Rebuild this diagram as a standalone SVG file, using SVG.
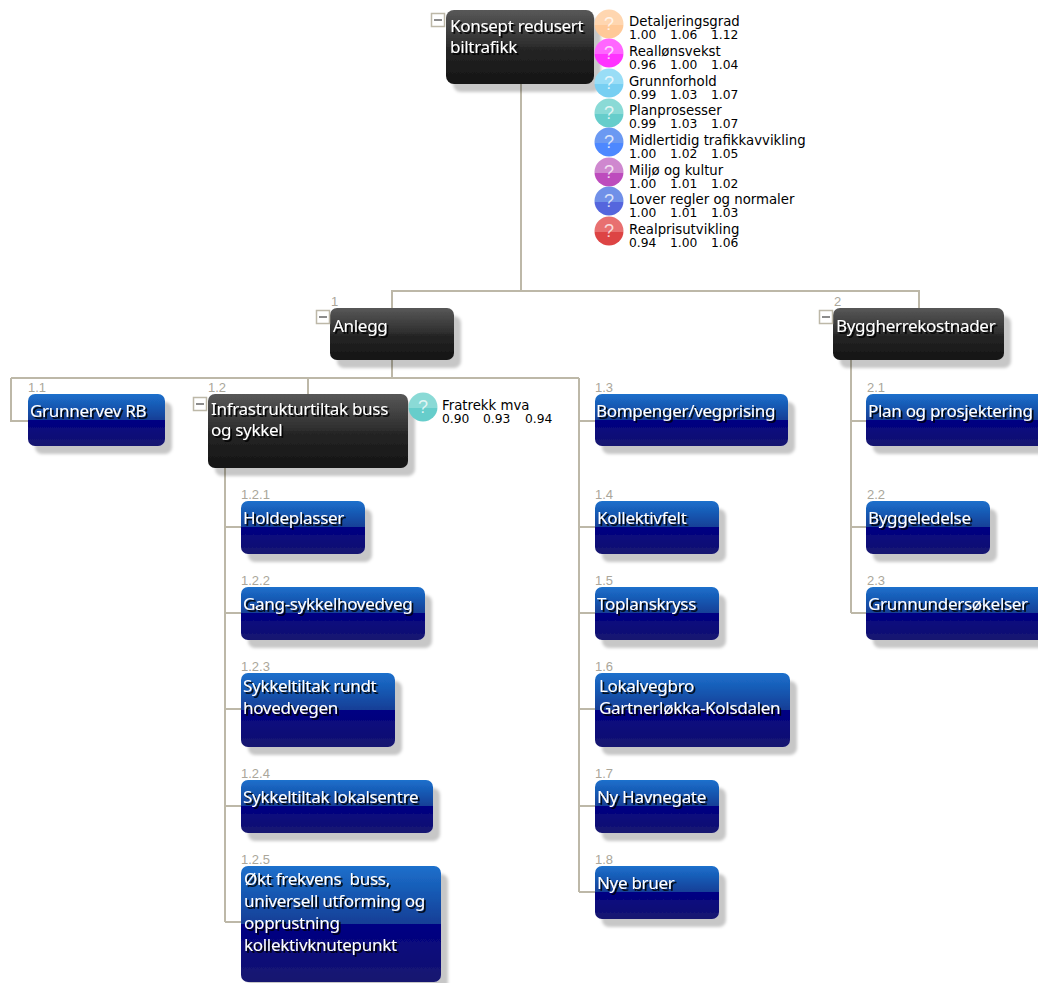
<svg xmlns="http://www.w3.org/2000/svg" width="1038" height="983" viewBox="0 0 1038 983">
<style>
.w{fill:#fff;font:17px "Noto Sans","Liberation Sans",sans-serif;letter-spacing:-.3px;white-space:pre;filter:url(#ts)}
.n{fill:#aaa69a;font:13px "Liberation Sans",sans-serif}
.s{fill:#000;font:13.300px "DejaVu Sans",sans-serif}
.v{fill:#000;font:12.300px "DejaVu Sans",sans-serif}
.b{fill:url(#blue);filter:url(#sh)}
.k{fill:url(#black);filter:url(#sh)}
.c{fill:none;stroke:#bdb8a8;stroke-width:2}
.m{fill:#fff;stroke:#bdb8a8;stroke-width:1.500}
.mm{stroke:#666;stroke-width:1.500}
.q{fill:#fff;fill-opacity:.75;font:18px "Liberation Sans",sans-serif;text-anchor:middle}
</style>
<defs>
<linearGradient id="blue" x1="0" y1="0" x2="0" y2="1"><stop offset="0" stop-color="#1c70cc"/><stop offset=".5" stop-color="#123e96"/><stop offset=".5" stop-color="#000083"/><stop offset="1" stop-color="#171770"/></linearGradient>
<linearGradient id="black" x1="0" y1="0" x2="0" y2="1"><stop offset="0" stop-color="#585858"/><stop offset=".5" stop-color="#2c2c2c"/><stop offset=".5" stop-color="#262626"/><stop offset="1" stop-color="#141414"/></linearGradient>
<filter id="sh" x="-10%" y="-10%" width="125%" height="135%"><feDropShadow dx="7" dy="8" stdDeviation="1.500" flood-color="#000" flood-opacity=".22"/></filter>
<filter id="ts" x="-5%" y="-20%" width="115%" height="150%"><feDropShadow dx="1.800" dy="1.800" stdDeviation=".5" flood-color="#000" flood-opacity="1"/></filter>
<linearGradient id="g1" x1="0" y1="0" x2="0" y2="1"><stop offset=".55" stop-color="#ffd6b0"/><stop offset=".55" stop-color="#ffc998"/></linearGradient>
<linearGradient id="g2" x1="0" y1="0" x2="0" y2="1"><stop offset=".55" stop-color="#ff66ff"/><stop offset=".55" stop-color="#ff33ff"/></linearGradient>
<linearGradient id="g3" x1="0" y1="0" x2="0" y2="1"><stop offset=".55" stop-color="#99ddf6"/><stop offset=".55" stop-color="#77cff2"/></linearGradient>
<linearGradient id="g4" x1="0" y1="0" x2="0" y2="1"><stop offset=".55" stop-color="#8adad6"/><stop offset=".55" stop-color="#66cdcb"/></linearGradient>
<linearGradient id="g5" x1="0" y1="0" x2="0" y2="1"><stop offset=".55" stop-color="#6b99f2"/><stop offset=".55" stop-color="#4d88ff"/></linearGradient>
<linearGradient id="g6" x1="0" y1="0" x2="0" y2="1"><stop offset=".55" stop-color="#cf88cf"/><stop offset=".55" stop-color="#bd4cbd"/></linearGradient>
<linearGradient id="g7" x1="0" y1="0" x2="0" y2="1"><stop offset=".55" stop-color="#7090e8"/><stop offset=".55" stop-color="#5566dd"/></linearGradient>
<linearGradient id="g8" x1="0" y1="0" x2="0" y2="1"><stop offset=".55" stop-color="#e87070"/><stop offset=".55" stop-color="#dd4444"/></linearGradient>
</defs>
<g id="connectors">
<path class="c" d="M521 84V291M392 308V291H919V308"/>
<path class="c" d="M392 360V378M11 378H579M11 378V421H28M308 378V394"/>
<path class="c" d="M579 378V892M579 421H595M579 527H595M579 613H595M579 709H595M579 806H595M579 892H595"/>
<path class="c" d="M225 468V922M225 527H241M225 613H241M225 709H241M225 806H241M225 922H241"/>
<path class="c" d="M851 360V613M851 421H866M851 527H866M851 613H866"/>
</g>
<g id="root"><rect class="k" x="446" y="10" width="148" height="74" rx="8"/><rect class="m" x="431.500" y="13.500" width="13" height="13"/><path class="mm" d="M434 20H442"/><text class="w" x="450" y="32">Konsept redusert</text><text class="w" x="450" y="53">biltrafikk</text></g>
<g id="risk-1"><circle cx="609" cy="24" r="14.500" fill="url(#g1)"/><text class="q" x="609" y="30">?</text><text class="s" x="629" y="26">Detaljeringsgrad</text><text class="v" x="629" y="39">1.00</text><text class="v" x="670" y="39">1.06</text><text class="v" x="711" y="39">1.12</text></g>
<g id="risk-2"><circle cx="609" cy="53" r="14.500" fill="url(#g2)"/><text class="q" x="609" y="59">?</text><text class="s" x="629" y="56">Reallønsvekst</text><text class="v" x="629" y="69">0.96</text><text class="v" x="670" y="69">1.00</text><text class="v" x="711" y="69">1.04</text></g>
<g id="risk-3"><circle cx="609" cy="83" r="14.500" fill="url(#g3)"/><text class="q" x="609" y="89">?</text><text class="s" x="629" y="86">Grunnforhold</text><text class="v" x="629" y="99">0.99</text><text class="v" x="670" y="99">1.03</text><text class="v" x="711" y="99">1.07</text></g>
<g id="risk-4"><circle cx="609" cy="113" r="14.500" fill="url(#g4)"/><text class="q" x="609" y="119">?</text><text class="s" x="629" y="115">Planprosesser</text><text class="v" x="629" y="128">0.99</text><text class="v" x="670" y="128">1.03</text><text class="v" x="711" y="128">1.07</text></g>
<g id="risk-5"><circle cx="609" cy="142" r="14.500" fill="url(#g5)"/><text class="q" x="609" y="148">?</text><text class="s" x="629" y="145">Midlertidig trafikkavvikling</text><text class="v" x="629" y="158">1.00</text><text class="v" x="670" y="158">1.02</text><text class="v" x="711" y="158">1.05</text></g>
<g id="risk-6"><circle cx="609" cy="172" r="14.500" fill="url(#g6)"/><text class="q" x="609" y="178">?</text><text class="s" x="629" y="175">Miljø og kultur</text><text class="v" x="629" y="188">1.00</text><text class="v" x="670" y="188">1.01</text><text class="v" x="711" y="188">1.02</text></g>
<g id="risk-7"><circle cx="609" cy="201" r="14.500" fill="url(#g7)"/><text class="q" x="609" y="207">?</text><text class="s" x="629" y="204">Lover regler og normaler</text><text class="v" x="629" y="217">1.00</text><text class="v" x="670" y="217">1.01</text><text class="v" x="711" y="217">1.03</text></g>
<g id="risk-8"><circle cx="609" cy="231" r="14.500" fill="url(#g8)"/><text class="q" x="609" y="237">?</text><text class="s" x="629" y="234">Realprisutvikling</text><text class="v" x="629" y="247">0.94</text><text class="v" x="670" y="247">1.00</text><text class="v" x="711" y="247">1.06</text></g>
<g id="n1"><rect class="k" x="330" y="308" width="124" height="52" rx="7"/><rect class="m" x="316.500" y="310.500" width="13" height="13"/><path class="mm" d="M319 317H327"/><text class="n" x="331" y="306">1</text><text class="w" x="333" y="332">Anlegg</text></g>
<g id="n2"><rect class="k" x="833" y="308" width="171" height="52" rx="7"/><rect class="m" x="819.500" y="310.500" width="13" height="13"/><path class="mm" d="M822 317H830"/><text class="n" x="834" y="306">2</text><text class="w" x="836" y="332">Byggherrekostnader</text></g>
<g id="n1-1"><rect class="b" x="28" y="394" width="137" height="52" rx="7"/><text class="n" x="28" y="392">1.1</text><text class="w" x="30" y="417">Grunnervev RB</text></g>
<g id="n1-2"><rect class="k" x="208" y="394" width="200" height="74" rx="7"/><rect class="m" x="193.500" y="397.500" width="13" height="13"/><path class="mm" d="M196 404H204"/><text class="n" x="208" y="392">1.2</text><text class="w" x="211" y="415">Infrastrukturtiltak buss</text><text class="w" x="211" y="436">og sykkel</text></g>
<g id="risk-9"><circle cx="423" cy="407" r="14.500" fill="url(#g4)"/><text class="q" x="423" y="413">?</text><text class="s" x="442" y="410">Fratrekk mva</text><text class="v" x="442" y="423">0.90</text><text class="v" x="483" y="423">0.93</text><text class="v" x="525" y="423">0.94</text></g>
<g id="n1-2-1"><rect class="b" x="241" y="501" width="124" height="53" rx="7"/><text class="n" x="241" y="499">1.2.1</text><text class="w" x="243" y="524">Holdeplasser</text></g>
<g id="n1-2-2"><rect class="b" x="241" y="587" width="184" height="53" rx="7"/><text class="n" x="241" y="585">1.2.2</text><text class="w" x="243" y="610">Gang-sykkelhovedveg</text></g>
<g id="n1-2-3"><rect class="b" x="241" y="673" width="154" height="74" rx="7"/><text class="n" x="241" y="671">1.2.3</text><text class="w" x="243" y="692">Sykkeltiltak rundt</text><text class="w" x="243" y="714">hovedvegen</text></g>
<g id="n1-2-4"><rect class="b" x="241" y="780" width="192" height="53" rx="7"/><text class="n" x="241" y="778">1.2.4</text><text class="w" x="243" y="803">Sykkeltiltak lokalsentre</text></g>
<g id="n1-2-5"><rect class="b" x="241" y="866" width="200" height="116" rx="7"/><text class="n" x="241" y="864">1.2.5</text><text class="w" x="244" y="885">Økt frekvens  buss,</text><text class="w" x="244" y="907">universell utforming og</text><text class="w" x="244" y="929">opprustning</text><text class="w" x="244" y="951">kollektivknutepunkt</text></g>
<g id="n1-3"><rect class="b" x="595" y="394" width="193" height="52" rx="7"/><text class="n" x="595" y="392">1.3</text><text class="w" x="596" y="417">Bompenger/vegprising</text></g>
<g id="n1-4"><rect class="b" x="595" y="501" width="124" height="53" rx="7"/><text class="n" x="595" y="499">1.4</text><text class="w" x="597" y="524">Kollektivfelt</text></g>
<g id="n1-5"><rect class="b" x="595" y="587" width="124" height="53" rx="7"/><text class="n" x="595" y="585">1.5</text><text class="w" x="597" y="610">Toplanskryss</text></g>
<g id="n1-6"><rect class="b" x="595" y="673" width="195" height="74" rx="7"/><text class="n" x="595" y="671">1.6</text><text class="w" x="599" y="692">Lokalvegbro</text><text class="w" x="599" y="714">Gartnerløkka-Kolsdalen</text></g>
<g id="n1-7"><rect class="b" x="595" y="780" width="124" height="53" rx="7"/><text class="n" x="595" y="778">1.7</text><text class="w" x="597" y="803">Ny Havnegate</text></g>
<g id="n1-8"><rect class="b" x="595" y="866" width="124" height="53" rx="7"/><text class="n" x="595" y="864">1.8</text><text class="w" x="597" y="889">Nye bruer</text></g>
<g id="n2-1"><rect class="b" x="866" y="394" width="190" height="52" rx="7"/><text class="n" x="867" y="392">2.1</text><text class="w" x="868" y="417">Plan og prosjektering</text></g>
<g id="n2-2"><rect class="b" x="866" y="501" width="124" height="53" rx="7"/><text class="n" x="867" y="499">2.2</text><text class="w" x="868" y="524">Byggeledelse</text></g>
<g id="n2-3"><rect class="b" x="866" y="587" width="190" height="53" rx="7"/><text class="n" x="867" y="585">2.3</text><text class="w" x="868" y="610">Grunnundersøkelser</text></g>
</svg>
